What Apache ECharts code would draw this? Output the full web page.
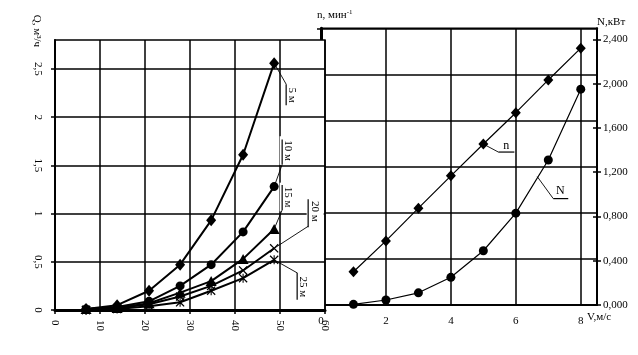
<!DOCTYPE html>
<html><head><meta charset="utf-8">
<script src="https://cdn.jsdelivr.net/npm/echarts@6/dist/echarts.min.js"></script>
<style>html,body{margin:0;padding:0;background:#fff}#c{width:638px;height:355px}</style>
</head><body><div id="c"></div>
<script>
// ---- data ----
const speedLeft = [6.9, 13.8, 20.9, 27.8, 34.7, 41.8, 48.7];
const q5m  = [0.01, 0.05, 0.20, 0.47, 0.93, 1.61, 2.56];
const q10m = [0.01, 0.03, 0.09, 0.25, 0.47, 0.81, 1.28];
const q15m = [0.01, 0.02, 0.07, 0.18, 0.30, 0.53, 0.84];
const q20m = [0.00, 0.02, 0.06, 0.14, 0.25, 0.41, 0.64];
const q25m = [0.00, 0.01, 0.04, 0.08, 0.20, 0.33, 0.52];
const seriesNamesLeft = ['5 м', '10 м', '15 м', '20 м', '25 м'];

const speedRight = [1, 2, 3, 4, 5, 6, 7, 8];
const nValues = [0.72, 1.39, 2.10, 2.80, 3.49, 4.17, 4.88, 5.57];
const NValues = [0.006, 0.045, 0.11, 0.25, 0.49, 0.83, 1.31, 1.95];

const leftXTicks = [0, 10, 20, 30, 40, 50, 60];
const leftYTicks = [0, 0.5, 1, 1.5, 2, 2.5];
const rightXTicks = [0, 2, 4, 6, 8];
const powerTicks = [0, 0.4, 0.8, 1.2, 1.6, 2.0, 2.4];

// ---- rendering ----
const FONT = 'Liberation Serif';
const comma = v => String(v).replace('.', ',');
const pairs = (xs, ys) => xs.map((x, i) => [x, ys[i]]);
const BLACK = '#000';

const crossPath = 'path://M0,1L1,0L5,4L9,0L10,1L6,5L10,9L9,10L5,6L1,10L0,9L4,5Z';
const starPath = 'path://M0,1L1,0L5,4L9,0L10,1L6,5L10,9L9,10L5,6L1,10L0,9L4,5Z M4.4,0L5.6,0L5.6,10L4.4,10Z';
const leftSymbols = [
  ['diamond', [10, 12]],
  ['circle', 9],
  ['triangle', [11, 10]],
  [crossPath, 9],
  [starPath, 9]
];
const leftData = [q5m, q10m, q15m, q20m, q25m];

const chart = echarts.init(document.getElementById('c'), null, {renderer: 'canvas'});

const labelStyle = {color: BLACK, fontFamily: FONT, fontSize: 11};

const option = {
  animation: false,
  backgroundColor: '#fff',
  grid: [
    {left: 55, top: 40, width: 270, height: 270, show: true, backgroundColor: '#fff',
     borderColor: BLACK, borderWidth: 1.5, z: 3},
    {left: 321, top: 28.3, width: 276, height: 276.7, show: true, backgroundColor: 'transparent',
     borderColor: BLACK, borderWidth: 1.5, z: 0}
  ],
  xAxis: [
    {gridIndex: 0, type: 'value', min: 0, max: 60, interval: 10, z: 4,
     axisLine: {lineStyle: {color: BLACK, width: 3}},
     axisTick: {length: 4, lineStyle: {color: BLACK, width: 1.5}},
     axisLabel: Object.assign({rotate: -90, margin: 10, customValues: leftXTicks}, labelStyle),
     splitLine: {show: true, lineStyle: {color: BLACK, width: 1.5}}},
    {gridIndex: 1, type: 'value', min: 0, max: 8.5, interval: 2, z: 0,
     axisLine: {lineStyle: {color: BLACK, width: 1.5}},
     axisTick: {show: false},
     axisLabel: Object.assign({margin: 11, customValues: rightXTicks}, labelStyle),
     splitLine: {show: true, lineStyle: {color: BLACK, width: 1.5}}}
  ],
  yAxis: [
    {gridIndex: 0, type: 'value', min: 0, max: 2.8, interval: 0.5, z: 4,
     axisLine: {show: true, lineStyle: {color: BLACK, width: 2}},
     axisTick: {show: true, length: 4, customValues: leftYTicks, lineStyle: {color: BLACK, width: 1.5}},
     axisLabel: Object.assign({rotate: -90, margin: 12, customValues: leftYTicks, formatter: comma}, labelStyle),
     splitLine: {show: true, lineStyle: {color: BLACK, width: 1.5}}},
    {gridIndex: 1, type: 'value', min: 0, max: 6, interval: 1, position: 'left', z: 0,
     axisLine: {show: true, lineStyle: {color: BLACK, width: 3}},
     axisTick: {show: true, length: 4, lineStyle: {color: BLACK, width: 1.5}},
     axisLabel: {show: false},
     splitLine: {show: true, lineStyle: {color: BLACK, width: 1.5}}},
    {gridIndex: 1, type: 'value', min: 0, max: 2.5, interval: 0.4, position: 'right', z: 1,
     axisLine: {show: true, lineStyle: {color: BLACK, width: 2}},
     axisTick: {show: true, length: 4, customValues: powerTicks, lineStyle: {color: BLACK, width: 1.5}},
     axisLabel: Object.assign({margin: 6, customValues: powerTicks,
       formatter: v => v.toFixed(3).replace('.', ',')}, labelStyle),
     splitLine: {show: false}},
    {gridIndex: 1, type: 'value', min: 0, max: 2.5, interval: 0.4, position: 'right', z: 1,
     axisLine: {show: false},
     axisTick: {show: true, inside: true, length: 4, customValues: powerTicks, lineStyle: {color: BLACK, width: 1.5}},
     axisLabel: {show: false},
     splitLine: {show: false}}
  ],
  series: leftData.map((vals, i) => ({
    name: seriesNamesLeft[i], type: 'line', xAxisIndex: 0, yAxisIndex: 0, z: 6,
    data: pairs(speedLeft, vals),
    symbol: leftSymbols[i][0], symbolSize: leftSymbols[i][1],
    itemStyle: {color: BLACK, borderColor: BLACK, borderWidth: 0},
    lineStyle: {color: BLACK, width: 2},
    emphasis: {disabled: true}
  })).concat([
    {name: 'n', type: 'line', xAxisIndex: 1, yAxisIndex: 1, z: 2,
     data: pairs(speedRight, nValues), symbol: 'diamond', symbolSize: [10, 11],
     itemStyle: {color: BLACK}, lineStyle: {color: BLACK, width: 1.2}, emphasis: {disabled: true}},
    {name: 'N', type: 'line', xAxisIndex: 1, yAxisIndex: 2, z: 2,
     data: pairs(speedRight, NValues), symbol: 'circle', symbolSize: 9,
     itemStyle: {color: BLACK}, lineStyle: {color: BLACK, width: 1.2}, emphasis: {disabled: true}}
  ])
};
chart.setOption(option);

// ---- annotations (positioned relative to data anchors) ----
// [text, gridIndex, yAxisIndex, anchor, leaderEnd offset, underline [x1,y1,x2,y2] offsets, text centre offset, rotated]
const notes = [
  ['5 м', 0, 0, [48.7, 2.56], [12, 21], [12, 21, 12, 42], [18, 32], true],
  ['10 м', 0, 0, [48.7, 1.28], [8, -22], [8, -47, 8, -22], [14, -36], true],
  ['15 м', 0, 0, [48.7, 0.84], [8, -19], [8, -44, 8, -19], [14, -32], true],
  ['20 м', 0, 0, [48.7, 0.64], [34, -22], [34, -49, 34, -21], [41, -37], true],
  ['25 м', 0, 0, [48.7, 0.52], [23, 13], [23, 13, 23, 40], [29, 27], true],
  ['n', 1, 1, [5, 3.49], [15, 8], [15, 8, 31, 8], [23, 2], false],
  ['N', 1, 2, [6.66, 1.16], [16, 22], [16, 22, 31, 22], [23, 14], false]
];
const graphics = [];
notes.forEach(([txt, gi, yi, anc, le, ul, tc, rot]) => {
  const p = chart.convertToPixel({xAxisIndex: gi, yAxisIndex: yi}, anc);
  graphics.push({type: 'text', z: 20, x: p[0] + tc[0], y: p[1] + tc[1],
    rotation: rot ? -Math.PI / 2 : 0,
    style: {text: txt, x: 0, y: 0, align: 'center', verticalAlign: 'middle',
      fill: BLACK, font: (rot ? '11px ' : '12px ') + FONT,
      backgroundColor: rot ? '#fff' : null, padding: rot ? [3, 4, 3, 4] : 0}});
  graphics.push({type: 'line', z: 21, shape: {x1: p[0], y1: p[1], x2: p[0] + le[0], y2: p[1] + le[1]},
    style: {stroke: BLACK, lineWidth: 0.9}});
  graphics.push({type: 'line', z: 21, shape: {x1: p[0] + ul[0], y1: p[1] + ul[1], x2: p[0] + ul[2], y2: p[1] + ul[3]},
    style: {stroke: BLACK, lineWidth: 1.2}});
});
// axis titles
graphics.push({type: 'text', z: 20, x: 37, y: 31, rotation: -Math.PI / 2,
  style: {text: 'Q, м³/ч', x: 0, y: 0, align: 'center', verticalAlign: 'middle', fill: BLACK, font: '11px ' + FONT}});
graphics.push({type: 'text', z: 20, x: 317, y: 15,
  style: {text: 'n, мин{s|-1}', x: 0, y: 0, align: 'left', verticalAlign: 'middle', fill: BLACK, font: '11px ' + FONT,
    rich: {s: {fontSize: 7, verticalAlign: 'top', fontFamily: FONT, padding: [0, 0, 6, 0]}}}});
graphics.push({type: 'text', z: 20, x: 597, y: 22,
  style: {text: 'N,кВт', x: 0, y: 0, align: 'left', verticalAlign: 'middle', fill: BLACK, font: '11px ' + FONT}});
graphics.push({type: 'text', z: 20, x: 587, y: 317,
  style: {text: 'V,м/с', x: 0, y: 0, align: 'left', verticalAlign: 'middle', fill: BLACK, font: '11px ' + FONT}});
chart.setOption({graphic: graphics});
</script></body></html>
